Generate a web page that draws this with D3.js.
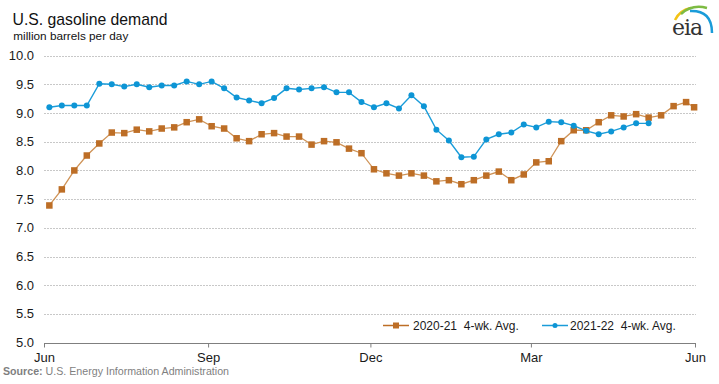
<!DOCTYPE html>
<html>
<head>
<meta charset="utf-8">
<script src="https://cdn.jsdelivr.net/npm/d3@7"></script>
<style>
  body { margin: 0; background: #fff; }
  svg { display: block; font-family: Arial, "Liberation Sans", sans-serif; }
</style>
</head>
<body>
<svg width="719" height="384"></svg>
<script>
// weekly 4-wk avg, million barrels per day
const demand2021 = [7.39, 7.67, 8.00, 8.26, 8.47, 8.66, 8.65, 8.71, 8.68, 8.73, 8.75, 8.84, 8.89,
  8.77, 8.73, 8.56, 8.51, 8.63, 8.65, 8.59, 8.59, 8.45, 8.51, 8.49, 8.38, 8.30,
  8.02, 7.95, 7.91, 7.95, 7.91, 7.81, 7.83, 7.76, 7.83, 7.91, 7.98, 7.83, 7.93,
  8.14, 8.16, 8.51, 8.70, 8.70, 8.84, 8.96, 8.94, 8.98, 8.92, 8.96, 9.12, 9.19, 9.10];
const demand2122 = [9.10, 9.13, 9.13, 9.13, 9.51, 9.50, 9.46, 9.50, 9.45, 9.48, 9.48, 9.55, 9.50,
  9.55, 9.43, 9.27, 9.22, 9.17, 9.26, 9.43, 9.41, 9.43, 9.45, 9.36, 9.36, 9.19,
  9.10, 9.17, 9.08, 9.31, 9.12, 8.71, 8.52, 8.23, 8.24, 8.54, 8.63, 8.66, 8.80,
  8.75, 8.85, 8.84, 8.78, 8.69, 8.63, 8.68, 8.75, 8.82, 8.82];
const weekDates = d3.range(52).map(i => d3.timeDay.offset(new Date(2020, 5, 4), 7 * i))
  .concat([new Date(2021, 4, 31, 12)]);
const monthTicks = [new Date(2020, 5, 1), new Date(2020, 8, 1), new Date(2020, 11, 1), new Date(2021, 2, 1), new Date(2021, 5, 1)];
const yTicks = [5.0, 5.5, 6.0, 6.5, 7.0, 7.5, 8.0, 8.5, 9.0, 9.5, 10.0];
const seriesNames = ["2020-21  4-wk. Avg.", "2021-22  4-wk. Avg."];

const svg = d3.select("svg");

const x = d3.scaleTime()
  .domain([monthTicks[0], monthTicks[4]])
  .range([44, 695]);
const y = d3.scaleLinear()
  .domain([5, 10])
  .range([342.7, 55.6]);

// gridlines
svg.append("g").selectAll("line")
  .data(yTicks.filter(d => d > 5))
  .enter().append("line")
  .attr("x1", 44).attr("x2", 696)
  .attr("y1", d => Math.round(y(d)) + 0.5).attr("y2", d => Math.round(y(d)) + 0.5)
  .attr("stroke", "#c8c8c8")
  .attr("stroke-dasharray", "2,1");

// y labels
svg.append("g").selectAll("text")
  .data(yTicks)
  .enter().append("text")
  .attr("x", 34)
  .attr("y", d => y(d) + 4.5)
  .attr("text-anchor", "end")
  .attr("font-size", 13)
  .attr("fill", "#1a1a1a")
  .text(d => d3.format(".1f")(d));

// x axis
const xAxis = d3.axisBottom(x)
  .tickValues(monthTicks)
  .tickSize(4)
  .tickSizeOuter(0)
  .tickPadding(5)
  .tickFormat(d3.timeFormat("%b"));
const gx = svg.append("g")
  .attr("transform", "translate(0," + (Math.round(y(5)) + 0.5) + ")")
  .call(xAxis);
gx.select(".domain").attr("stroke", "#7f7f7f").attr("d", "M44,0H696");
gx.selectAll(".tick line").attr("stroke", "#7f7f7f");
gx.selectAll("text").attr("font-size", 13).attr("fill", "#1a1a1a").attr("font-family", "Arial, 'Liberation Sans', sans-serif");

const line = d3.line()
  .x((d, i) => x(weekDates[i]))
  .y(d => y(d));

// 2020-21
svg.append("path")
  .datum(demand2021)
  .attr("fill", "none")
  .attr("stroke", "#cf9357")
  .attr("stroke-width", 1.3)
  .attr("d", line);
svg.append("g").selectAll("rect")
  .data(demand2021)
  .enter().append("rect")
  .attr("x", (d, i) => x(weekDates[i]) - 3.25)
  .attr("y", d => y(d) - 3.25)
  .attr("width", 6.5).attr("height", 6.5)
  .attr("fill", "#bd6e26");

// 2021-22
svg.append("path")
  .datum(demand2122)
  .attr("fill", "none")
  .attr("stroke", "#1a9cd9")
  .attr("stroke-width", 1.4)
  .attr("d", line);
svg.append("g").selectAll("circle")
  .data(demand2122)
  .enter().append("circle")
  .attr("cx", (d, i) => x(weekDates[i]))
  .attr("cy", d => y(d))
  .attr("r", 3)
  .attr("fill", "#0d95d5");

// legend
const legend = svg.append("g").attr("transform", "translate(0,325.5)");
const lg1 = legend.append("g").attr("transform", "translate(383,0)");
lg1.append("line").attr("x1", 0).attr("x2", 26).attr("stroke", "#bd6e26").attr("stroke-width", 1.5);
lg1.append("rect").attr("x", 10).attr("y", -3).attr("width", 6).attr("height", 6).attr("fill", "#bd6e26");
lg1.append("text").attr("x", 30).attr("y", 4.5).attr("font-size", 12).attr("fill", "#1a1a1a")
  .attr("xml:space", "preserve").style("white-space", "pre").text(seriesNames[0]);
const lg2 = legend.append("g").attr("transform", "translate(542,0)");
lg2.append("line").attr("x1", 0).attr("x2", 26).attr("stroke", "#1a9cd9").attr("stroke-width", 1.5);
lg2.append("circle").attr("cx", 13).attr("r", 2.5).attr("fill", "#0d95d5");
lg2.append("text").attr("x", 28).attr("y", 4.5).attr("font-size", 12).attr("fill", "#1a1a1a")
  .attr("xml:space", "preserve").style("white-space", "pre").text(seriesNames[1]);

// titles
svg.append("text").attr("x", 12.5).attr("y", 25).attr("font-size", 17).attr("fill", "#111")
  .attr("textLength", 155).attr("lengthAdjust", "spacingAndGlyphs")
  .text("U.S. gasoline demand");
svg.append("text").attr("x", 13.3).attr("y", 40).attr("font-size", 11).attr("fill", "#111")
  .attr("textLength", 115).attr("lengthAdjust", "spacingAndGlyphs")
  .text("million barrels per day");

// source
const src = svg.append("text").attr("x", 3).attr("y", 375).attr("font-size", 11).attr("fill", "#7f7f7f")
  .attr("textLength", 226).attr("lengthAdjust", "spacingAndGlyphs");
src.append("tspan").attr("font-weight", "bold").text("Source:");
src.append("tspan").text(" U.S. Energy Information Administration");

// eia logo
const logo = svg.append("g");
const arc = (x0, y0, cx, cy, x1, y1) => {
  const p = d3.path();
  p.moveTo(x0, y0);
  p.quadraticCurveTo(cx, cy, x1, y1);
  return p.toString();
};
logo.append("path").attr("d", arc(675, 20, 680, 10, 691, 8)).attr("fill", "none").attr("stroke", "#f3c316").attr("stroke-width", 2.5);
logo.append("path").attr("d", arc(681, 14, 692, 4, 707, 8)).attr("fill", "none").attr("stroke", "#7dbb42").attr("stroke-width", 2.5);
logo.append("path").attr("d", arc(690, 11, 712, 10, 712, 33)).attr("fill", "none").attr("stroke", "#1a9cd9").attr("stroke-width", 2.5);
logo.append("text").attr("x", 672).attr("y", 35).attr("font-size", 22)
  .attr("font-family", "'DejaVu Serif', 'Liberation Serif', serif").attr("fill", "#333")
  .attr("letter-spacing", -1).text("eia");
</script>
</body>
</html>
